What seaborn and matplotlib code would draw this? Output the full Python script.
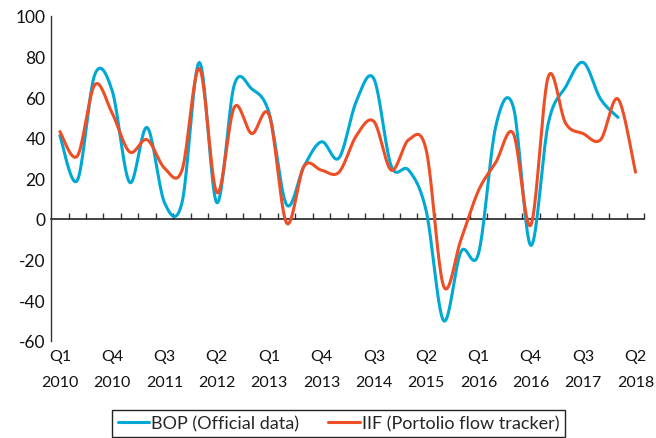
import numpy as np
import pandas as pd
import matplotlib
matplotlib.use('Agg')
import matplotlib.pyplot as plt
import seaborn as sns

# ==================== Data (quarterly) ====================
quarters = ['Q1', 'Q2', 'Q3', 'Q4']
start_year = 2010
n_quarters = 34  # Q1 2010 .. Q2 2018

bop_values = [41, 19, 71, 63, 18, 45, 8, 8, 77, 8,
              66, 64, 52, 7, 26, 38, 30, 58, 69, 26,
              24, 4, -50, -16, -17, 46, 55, -13, 47, 65,
              77, 59, 50]
iif_values = [43, 31, 66, 52, 33, 39, 25, 24, 74, 13,
              55, 42, 51, -2, 26, 24, 23, 41, 48, 24,
              39, 34, -33, -10, 14, 28, 42, -3, 70, 47,
              42, 39, 59, 23]

y_ticks = [-60, -40, -20, 0, 20, 40, 60, 80, 100]

bop_color = '#00A8D4'
iif_color = '#EE4E26'


def smooth(values, steps=20):
    # Excel-style smoothed line: Bezier segments through every point
    v = np.asarray(values, dtype=float)
    n = len(v)
    x = np.arange(n, dtype=float)
    pts = np.column_stack([x, v])
    xs, ys = [], []
    for i in range(n - 1):
        p0 = pts[max(i - 1, 0)]
        p1 = pts[i]
        p2 = pts[i + 1]
        p3 = pts[min(i + 2, n - 1)]
        c1 = p1 + (p2 - p0) / 6.0
        c2 = p2 - (p3 - p1) / 6.0
        t = np.linspace(0, 1, steps, endpoint=(i == n - 2))[:, None]
        seg = ((1 - t) ** 3) * p1 + 3 * ((1 - t) ** 2) * t * c1 + 3 * (1 - t) * t ** 2 * c2 + t ** 3 * p2
        xs.append(seg[:, 0])
        ys.append(seg[:, 1])
    return np.concatenate(xs), np.concatenate(ys)


bx, by = smooth(bop_values)
ix, iy = smooth(iif_values)
df_bop = pd.DataFrame({'x': bx, 'y': by})
df_iif = pd.DataFrame({'x': ix, 'y': iy})

# ==================== Plot ====================
sns.set_style('white')
plt.rcParams['font.family'] = ['Lato', 'DejaVu Sans']
plt.rcParams['axes.unicode_minus'] = False

fig = plt.figure(figsize=(6.56, 4.39), dpi=100)
ax = fig.add_axes([0.078, 0.221, 0.904, 0.741])

sns.lineplot(data=df_bop, x='x', y='y', color=bop_color, linewidth=2.2,
             sort=False, estimator=None, ax=ax, label='BOP (Official data)')
sns.lineplot(data=df_iif, x='x', y='y', color=iif_color, linewidth=2.2,
             sort=False, estimator=None, ax=ax, label='IIF (Portolio flow tracker)')

ax.set_xlim(-0.5, n_quarters - 0.5)
ax.set_ylim(-60, 100)
ax.set_xlabel('')
ax.set_ylabel('')

# y axis
ax.set_yticks(y_ticks)
ax.set_yticklabels([str(t) for t in y_ticks])
ax.tick_params(axis='y', direction='in', length=4, width=1, color='#333333',
               labelsize=12.5, pad=4, labelcolor='#111111')

# x labels every third quarter, at the bottom
label_pos = list(range(0, n_quarters, 3))
label_txt = [f'{quarters[p % 4]}\n{start_year + p // 4}' for p in label_pos]
ax.set_xticks(label_pos)
ax.set_xticklabels(label_txt)
ax.tick_params(axis='x', length=0, labelsize=11.5, pad=6, labelcolor='#111111')
for lbl in ax.get_xticklabels():
    lbl.set_linespacing(2.05)

for side in ['top', 'right', 'bottom']:
    ax.spines[side].set_visible(False)
ax.spines['left'].set_color('#333333')
ax.spines['left'].set_linewidth(1)

# zero line with category ticks
zero_axis = ax.secondary_xaxis(60 / 160)
zero_axis.set_xticks(np.arange(0.5, n_quarters, 1))
zero_axis.tick_params(direction='in', length=4, width=1, color='#333333', labelbottom=False)
zero_axis.spines['bottom'].set_color('#222222')
zero_axis.spines['bottom'].set_linewidth(1.2)

# legend below
handles, labels = ax.get_legend_handles_labels()
ax.get_legend().remove()
leg = fig.legend(handles, labels, loc='center', bbox_to_anchor=(0.516, 0.034),
                 ncol=2, frameon=True, fancybox=False, framealpha=1,
                 edgecolor='#222222', fontsize=13, handlelength=1.75,
                 handletextpad=0.12, columnspacing=1.6, borderpad=0.3,
                 borderaxespad=0)
leg.get_frame().set_linewidth(1)

fig.savefig('out.png', dpi=100)
